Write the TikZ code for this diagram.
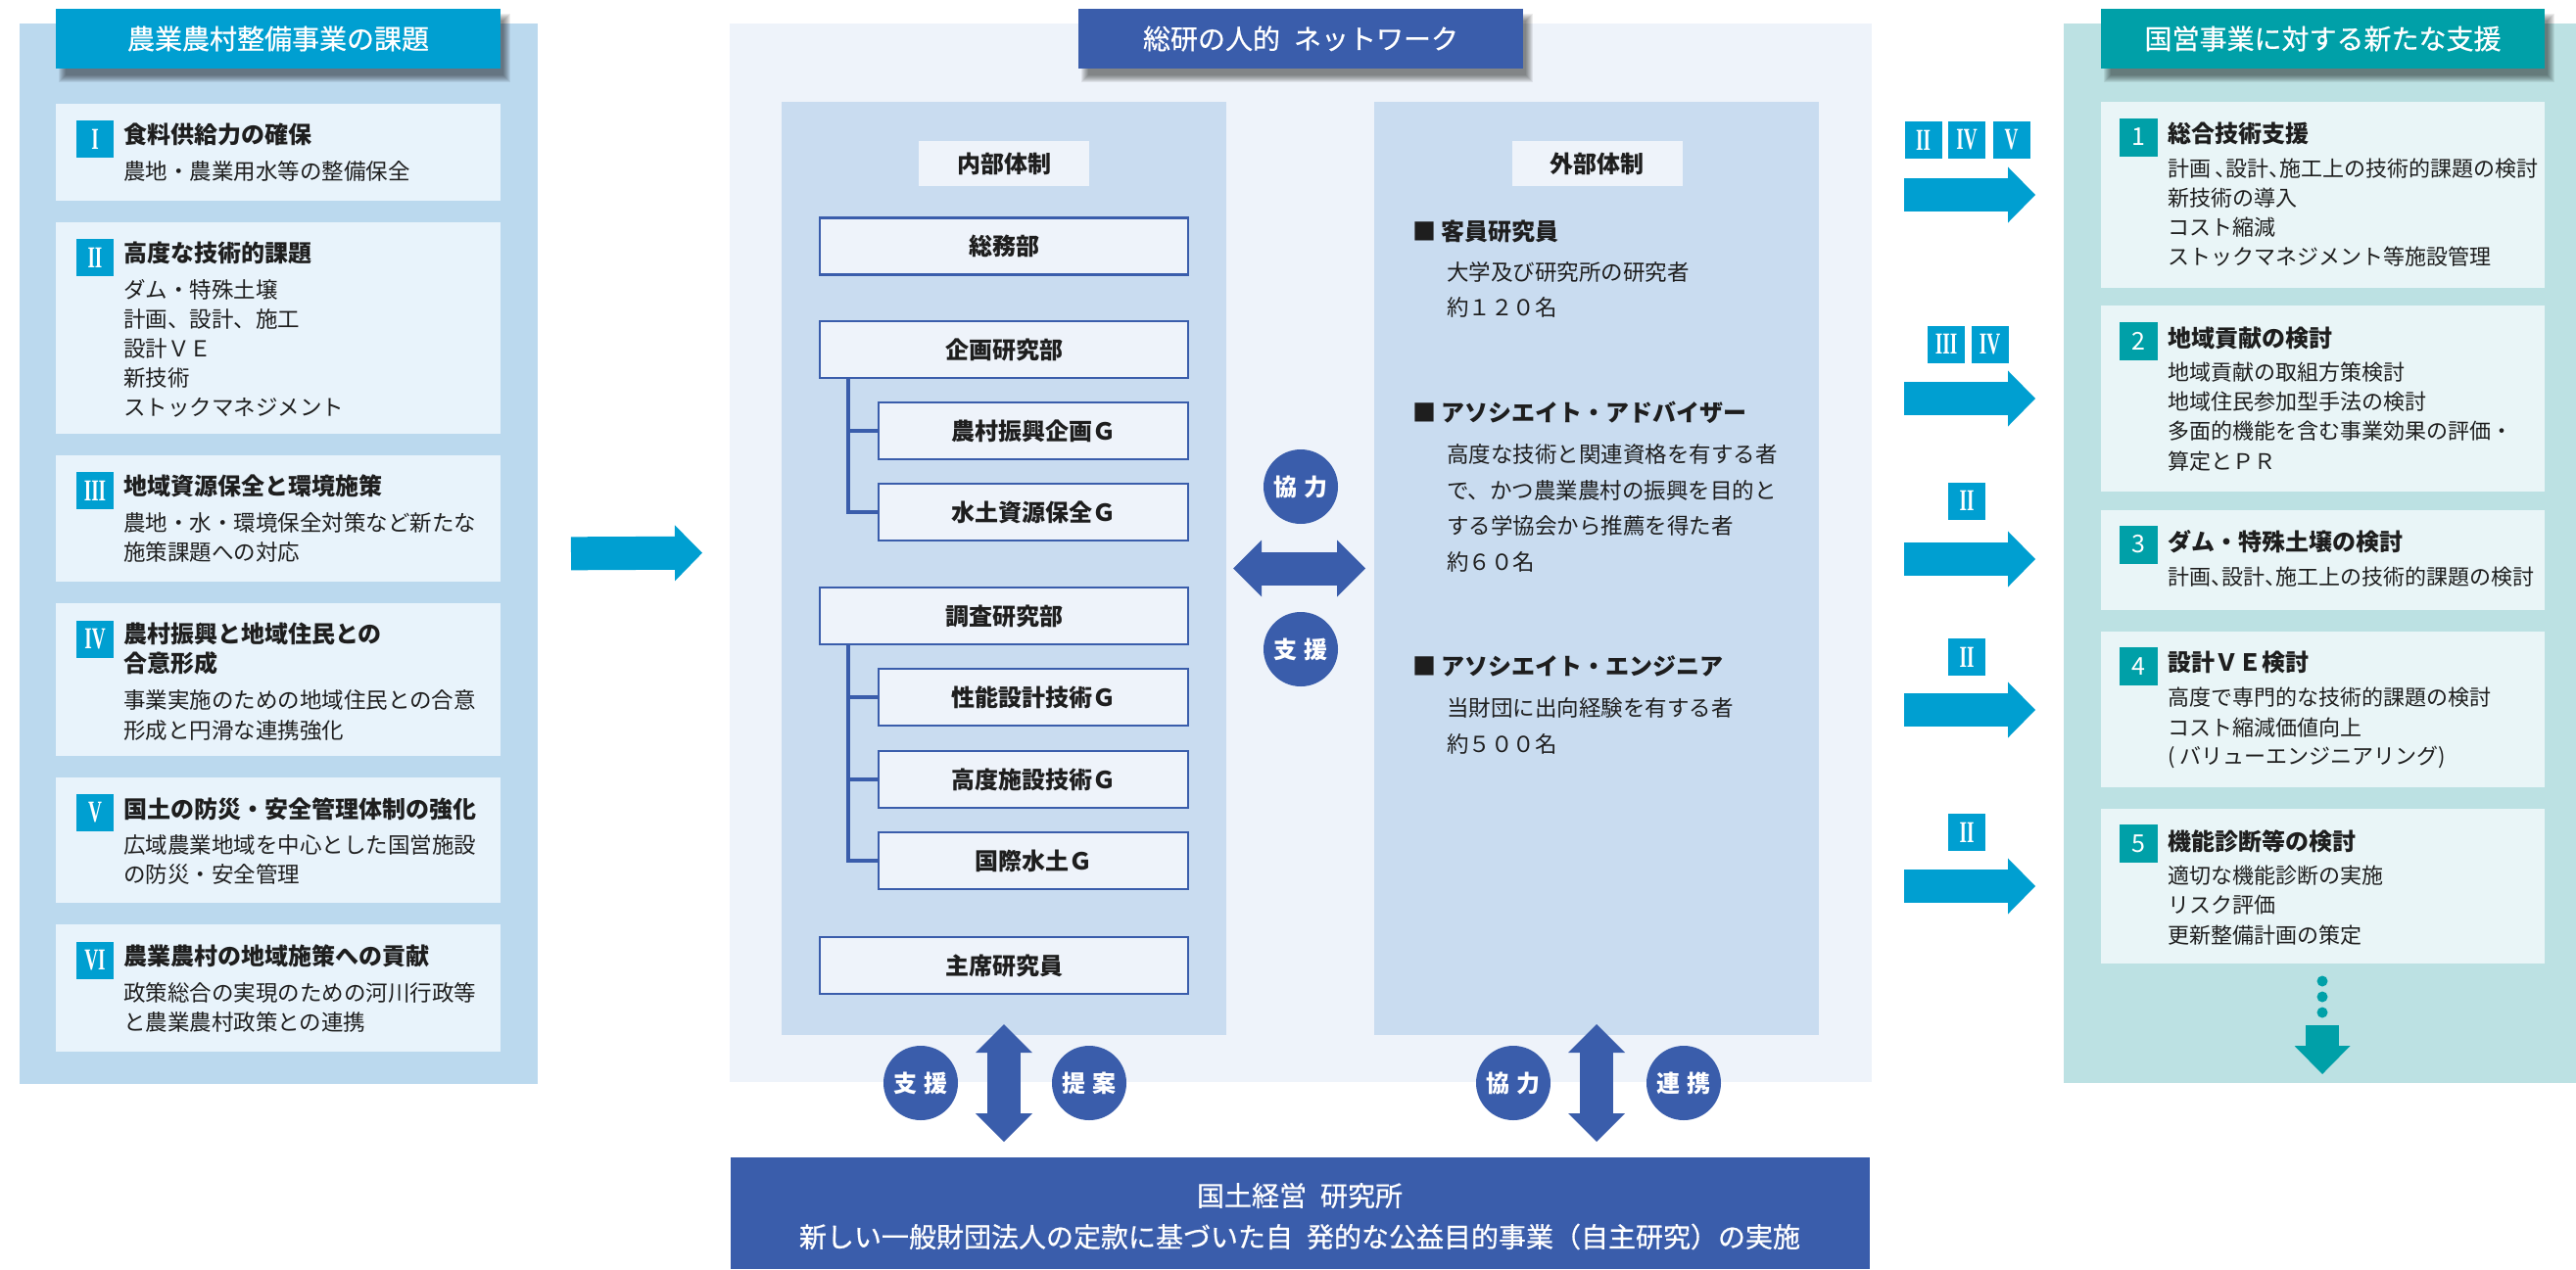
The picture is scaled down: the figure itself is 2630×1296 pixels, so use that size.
\documentclass[tikz,border=0pt]{standalone}
\usepackage{fontspec}
\usepackage{graphicx}
\setmainfont{Noto Sans CJK JP}
\newfontfamily\romf{Liberation Serif}
\newfontfamily\hdrf[FakeBold=0.6]{Noto Sans CJK JP}
\usetikzlibrary{arrows.meta}
\definecolor{lpanel}{HTML}{BBD9EE}
\definecolor{lbox}{HTML}{E8F3FB}
\definecolor{cyanb}{HTML}{009FD1}
\definecolor{mpanel}{HTML}{EEF3FA}
\definecolor{ipanel}{HTML}{C9DCF0}
\definecolor{dblue}{HTML}{3A5DAB}
\definecolor{rpanel}{HTML}{BCE1E3}
\definecolor{tealb}{HTML}{00A0A8}
\definecolor{rbox}{HTML}{E9F5F7}
\definecolor{txt}{HTML}{1E1E1E}
\newcommand\fs[1]{\fontsize{#1}{#1}\selectfont}
\newcommand\rmn[1]{{\romf\bfseries\fs{31}\scalebox{0.62}[1]{#1}}}
\newcommand\hc{\makebox[0.5em][l]{、}}
\newcommand\txlines[6]{\foreach \tx [count=\k] in {#6} {\node[#1] (#2-\k) at (#3,{#4+(\k-1)*#5}) {\tx};}}
\newcommand\shadowbox[4]{\foreach \s in {0,...,7} {\fill[black,opacity=0.07] ({#1+10-\s},{#2+12-\s}) rectangle ({#3+3+\s},{#4+7+\s});}}
\tikzset{
  every node/.style={inner sep=0pt,outer sep=0pt},
  hdr/.style={text=white,font=\hdrf\fs{28}},
  ttl/.style={text=txt,font=\bfseries\fs{24},anchor=west},
  sub/.style={text=txt,font=\fs{22.5},anchor=west},
  rsub/.style={text=txt,font=\fs{22},anchor=west},
  rbadge/.style={fill=cyanb,text=white,minimum width=38pt,minimum height=38pt},
  nbadge/.style={fill=tealb,text=white,font=\fs{25},minimum width=39pt,minimum height=39pt},
  lboxs/.style={fill=lbox,minimum width=454pt},
  rboxs/.style={fill=rbox,minimum width=453pt},
  mainbox/.style={draw=dblue,line width=2.5pt,fill=mpanel,minimum width=376pt,minimum height=58pt,font=\bfseries\fs{24},text=txt},
  grpbox/.style={mainbox,minimum width=316pt},
  labbox/.style={fill=mpanel,minimum width=174pt,minimum height=46pt,font=\bfseries\fs{24},text=txt},
  circ/.style={circle,fill=dblue,minimum size=76pt,text=white,font=\bfseries\fs{24}},
  tree/.style={dblue,line width=4.5pt},
  fatblue/.style={line width=34pt,dblue,{Triangle[length=29pt,width=58pt,line width=0pt]}-{Triangle[length=29pt,width=58pt,line width=0pt]}},
  fatcyan/.style={line width=34pt,cyanb,-{Triangle[length=28pt,width=57pt,line width=0pt]}},
  fatteal/.style={line width=34pt,tealb,-{Triangle[length=29pt,width=57pt,line width=0pt]}},
}
\begin{document}
\begin{tikzpicture}[x=1pt,y=-1pt]
\useasboundingbox (0,0) rectangle (2630,1296);
% ---------- backgrounds
\node[fill=lpanel,minimum width=529pt,minimum height=1083pt] (lp) at (284.5,565.5) {};
\node[fill=mpanel,minimum width=1166pt,minimum height=1081pt] (mp) at (1328,564.5) {};
\node[fill=rpanel,minimum width=523pt,minimum height=1082pt] (rp) at (2368.5,565) {};
\node[fill=dblue,minimum width=1163pt,minimum height=114pt] (bb) at (1327.5,1239) {};
% ---------- title bars
\shadowbox{57}{9}{511}{70}
\node[fill=cyanb,minimum width=454pt,minimum height=61pt,hdr] (lt) at (284,39.5) {農業農村整備事業の課題};
\shadowbox{1101}{9}{1555}{70}
\node[fill=dblue,minimum width=454pt,minimum height=61pt,hdr] (mt) at (1328,39.5) {総研の人的\hspace{0.5em}ネットワーク};
\shadowbox{2145}{9}{2598}{70}
\node[fill=tealb,minimum width=453pt,minimum height=61pt,hdr] (rt) at (2371.5,39.5) {国営事業に対する新たな支援};
% ---------- left panel items
\node[lboxs,minimum height=99pt] (lb1) at (284,155.5) {};
\node[lboxs,minimum height=216pt] (lb2) at (284,335) {};
\node[lboxs,minimum height=129pt] (lb3) at (284,529.5) {};
\node[lboxs,minimum height=156pt] (lb4) at (284,694) {};
\node[lboxs,minimum height=128pt] (lb5) at (284,858) {};
\node[lboxs,minimum height=130pt] (lb6) at (284,1009) {};
\node[rbadge] (lg1) at (97,142) {\rmn{I}};
\node[rbadge] (lg2) at (97,263) {\rmn{II}};
\node[rbadge] (lg3) at (97,501) {\rmn{III}};
\node[rbadge] (lg4) at (97,653) {\rmn{IV}};
\node[rbadge] (lg5) at (97,830) {\rmn{V}};
\node[rbadge] (lg6) at (97,981) {\rmn{VI}};
\node[ttl] (lt1) at (126,137) {食料供給力の確保};
\txlines{sub}{ls1}{126}{175}{30}{農地・農業用水等の整備保全}
\node[ttl] (lt2) at (126,258) {高度な技術的課題};
\txlines{sub}{ls2}{126}{296}{30}{ダム・特殊土壌,計画、設計、施工,設計ＶＥ,新技術,ストックマネジメント}
\node[ttl] (lt3) at (126,496) {地域資源保全と環境施策};
\txlines{sub}{ls3}{126}{534}{29.5}{農地・水・環境保全対策など新たな,施策課題への対応}
\txlines{ttl}{lt4}{126}{647}{30.5}{農村振興と地域住民との,合意形成}
\txlines{sub}{ls4}{126}{715}{31}{事業実施のための地域住民との合意,形成と円滑な連携強化}
\node[ttl] (lt5) at (126,826) {国土の防災・安全管理体制の強化};
\txlines{sub}{ls5}{126}{863}{30}{広域農業地域を中心とした国営施設,の防災・安全管理}
\node[ttl] (lt6) at (126,976) {農業農村の地域施策への貢献};
\txlines{sub}{ls6}{126}{1014}{30}{政策総合の実現のための河川行政等,と農業農村政策との連携}
% ---------- middle panel
\node[fill=ipanel,minimum width=454pt,minimum height=953pt] (ipL) at (1025,580.5) {};
\node[fill=ipanel,minimum width=454pt,minimum height=953pt] (ipR) at (1630,580.5) {};
\node[labbox] (labL) at (1025,167) {内部体制};
\node[labbox] (labR) at (1630.5,167) {外部体制};
\node[mainbox] (soumu) at (1025,251.5) {総務部};
\node[mainbox] (kikaku) at (1025,357) {企画研究部};
\node[grpbox] (nouson) at (1055,440) {農村振興企画Ｇ};
\node[grpbox] (suido) at (1055,523) {水土資源保全Ｇ};
\node[mainbox] (chousa) at (1025,629) {調査研究部};
\node[grpbox] (seinou) at (1055,712) {性能設計技術Ｇ};
\node[grpbox] (koudo) at (1055,796) {高度施設技術Ｇ};
\node[grpbox] (kokusai) at (1055,879) {国際水土Ｇ};
\node[mainbox] (shuseki) at (1025,986) {主席研究員};
\coordinate (t1) at ([xshift=29pt]kikaku.south west);
\coordinate (t2) at ([xshift=29pt]chousa.south west);
\draw[tree] (t1) |- (suido.west);
\draw[tree] (t1 |- nouson.west) -- (nouson.west);
\draw[tree] (t2) |- (kokusai.west);
\draw[tree] (t2 |- seinou.west) -- (seinou.west);
\draw[tree] (t2 |- koudo.west) -- (koudo.west);
% external
\node[ttl] (ex1) at (1442,236) {■ 客員研究員};
\txlines{sub}{es1}{1477}{278}{36}{大学及び研究所の研究者,約１２０名}
\node[ttl] (ex2) at (1442,421) {■ アソシエイト・アドバイザー};
\txlines{sub}{es2}{1477}{464}{36.7}{高度な技術と関連資格を有する者,で、かつ農業農村の振興を目的と,する学協会から推薦を得た者,約６０名}
\node[ttl] (ex3) at (1442,680) {■ アソシエイト・エンジニア};
\txlines{sub}{es3}{1477}{723}{37}{当財団に出向経験を有する者,約５００名}
% middle connectors
\draw[fatblue,shorten <=7pt,shorten >=9pt] (ipL.east) -- (ipR.west);
\node[circ] (kyo1) at (1328,497) {協\hspace{0.3em}力};
\node[circ] (shi1) at (1328,663) {支\hspace{0.3em}援};
\draw[fatblue,shorten <=-11pt,shorten >=16pt] (ipL.south) -- (ipL.south |- bb.north);
\draw[fatblue,shorten <=-11pt,shorten >=16pt] (ipR.south) -- (ipR.south |- bb.north);
\node[circ] (shi2) at (940,1106) {支\hspace{0.3em}援};
\node[circ] (tei) at (1112,1106) {提\hspace{0.3em}案};
\node[circ] (kyo2) at (1545,1106) {協\hspace{0.3em}力};
\node[circ] (ren) at (1719,1106) {連\hspace{0.3em}携};
% left to middle arrow
\draw[fatcyan,shorten <=34pt,shorten >=28pt] (lp.east) -- (mp.west);
% bottom bar text
\node[hdr] (bt1) at (1327,1221) {国土経営\hspace{0.5em}研究所};
\node[hdr] (bt2) at (1327,1263) {新しい一般財団法人の定款に基づいた自\hspace{0.5em}発的な公益目的事業（自主研究）の実施};
% ---------- right panel items
\node[rboxs,minimum height=190pt] (rb1) at (2371.5,199) {};
\node[rboxs,minimum height=190pt] (rb2) at (2371.5,407) {};
\node[rboxs,minimum height=102pt] (rb3) at (2371.5,572) {};
\node[rboxs,minimum height=159pt] (rb4) at (2371.5,724.5) {};
\node[rboxs,minimum height=158pt] (rb5) at (2371.5,905) {};
\node[nbadge] (ng1) at (2183.5,140) {1};
\node[nbadge] (ng2) at (2183.5,348) {2};
\node[nbadge] (ng3) at (2183.5,556) {3};
\node[nbadge] (ng4) at (2183.5,680.5) {4};
\node[nbadge] (ng5) at (2183.5,861.5) {5};
\node[ttl] (rt1) at (2213,136) {総合技術支援};
\txlines{rsub}{rs1}{2213}{172}{30}{計画\hspace{0.2em}\hc 設計\hc 施工上の技術的課題の検討,新技術の導入,コスト縮減,ストックマネジメント等施設管理}
\node[ttl] (rt2) at (2213,345) {地域貢献の検討};
\txlines{rsub}{rs2}{2213}{380}{30.3}{地域貢献の取組方策検討,地域住民参加型手法の検討,多面的機能を含む事業効果の評価・,算定とＰＲ}
\node[ttl] (rt3) at (2213,553) {ダム・特殊土壌の検討};
\txlines{rsub}{rs3}{2213}{589}{30}{計画\hc 設計\hc 施工上の技術的課題の検討}
\node[ttl] (rt4) at (2213,676) {設計ＶＥ検討};
\txlines{rsub}{rs4}{2213}{712.5}{30.3}{高度で専門的な技術的課題の検討,コスト縮減価値向上,{( バリューエンジニアリング)}}
\node[ttl] (rt5) at (2213,859) {機能診断等の検討};
\txlines{rsub}{rs5}{2213}{894}{30.5}{適切な機能診断の実施,リスク評価,更新整備計画の策定}
% continuation
\fill[tealb] (2371,1002) circle (5.5) (2371,1018) circle (5.5) (2371,1034) circle (5.5);
\coordinate (dA) at (2371,1047);
\coordinate (dB) at (2371,1097);
\draw[fatteal] (dA) -- (dB);
% ---------- arrows middle to right
\coordinate (a1) at (1944,199);
\coordinate (a2) at (1944,407);
\coordinate (a3) at (1944,571);
\coordinate (a4) at (1944,725);
\coordinate (a5) at (1944,905);
\draw[fatcyan,shorten >=67pt] (a1) -- (a1 -| rb1.west);
\draw[fatcyan,shorten >=67pt] (a2) -- (a2 -| rb2.west);
\draw[fatcyan,shorten >=67pt] (a3) -- (a3 -| rb3.west);
\draw[fatcyan,shorten >=67pt] (a4) -- (a4 -| rb4.west);
\draw[fatcyan,shorten >=67pt] (a5) -- (a5 -| rb5.west);
\node[rbadge] (ab1a) at (1963.5,143) {\rmn{II}};
\node[rbadge] (ab1b) at (2008,143) {\rmn{IV}};
\node[rbadge] (ab1c) at (2053.5,143) {\rmn{V}};
\node[rbadge] (ab2a) at (1987,351.5) {\rmn{III}};
\node[rbadge] (ab2b) at (2031.5,351.5) {\rmn{IV}};
\node[rbadge] (ab3) at (2008,511.5) {\rmn{II}};
\node[rbadge] (ab4) at (2008,671) {\rmn{II}};
\node[rbadge] (ab5) at (2008,850) {\rmn{II}};
\end{tikzpicture}
\end{document}
